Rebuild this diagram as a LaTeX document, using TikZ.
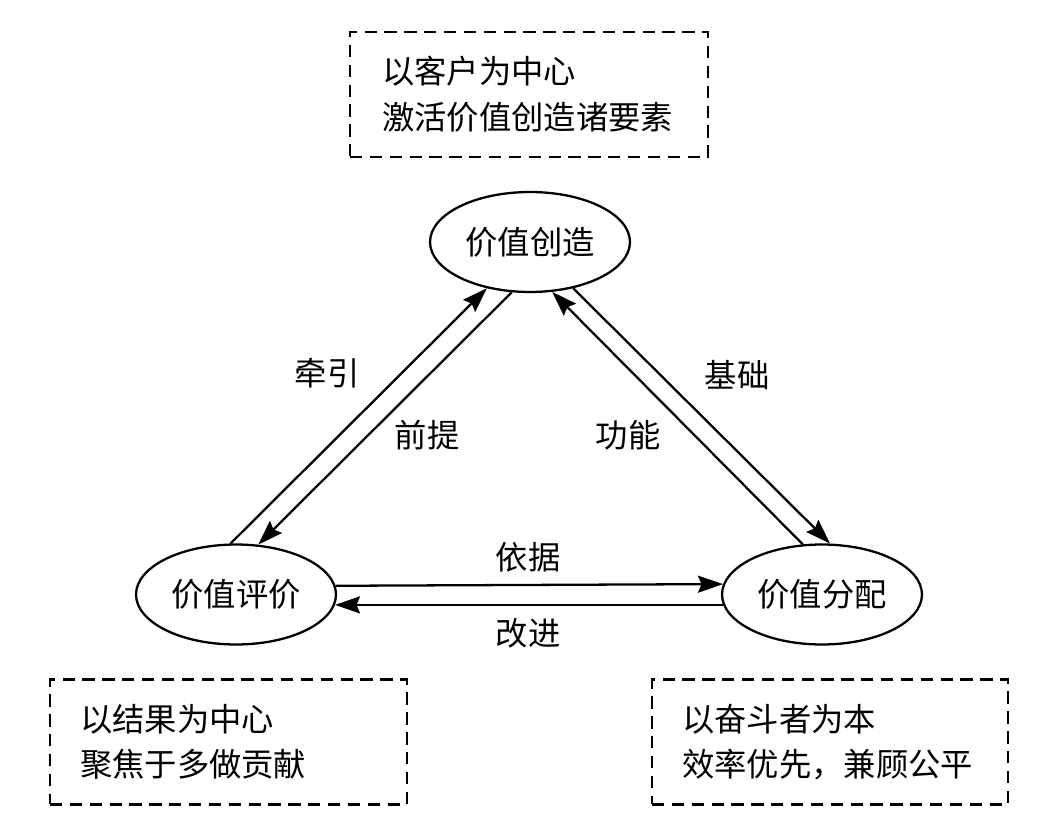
\documentclass[tikz,border=0pt]{standalone}
\usepackage{fontspec}
\setmainfont{Noto Sans CJK SC}
\usetikzlibrary{shapes.geometric,arrows.meta}

\begin{document}
\begin{tikzpicture}[x=0.02cm,y=-0.02cm,font=\fontsize{18.4}{26}\selectfont,
	stage/.style={ellipse,draw,line width=1.3pt,minimum width=4cm,minimum height=2cm,inner sep=0pt},
	notebox/.style={draw,dash pattern=on 7pt off 4.3pt,line width=1.4pt,align=left,inner ysep=0pt,minimum height=2.5cm},
	link/.style={line width=1.3pt,-{Stealth[length=0.5cm,width=0.34cm,inset=0.07cm]}},
	tag/.style={inner sep=0pt}]
			\useasboundingbox (0,0) rectangle (1061,821);
			% the three stages
			\node[stage] (create) at (530,242) {价值创造};
			\node[stage] (eval) at (236,594.5) {价值评价};
			\node[stage] (alloc) at (822,594.5) {价值分配};
			% dashed notes
			\node[notebox,text width=5.88cm,inner xsep=0.64cm] (createnote) at (529,94.5) {以客户为中心\\激活价值创造诸要素};
			\node[notebox,text width=5.94cm,inner xsep=0.6cm] (evalnote) at (228.5,742) {以结果为中心\\聚焦于多做贡献};
			\node[notebox,text width=5.92cm,inner xsep=0.6cm] (allocnote) at (830,742) {以奋斗者为本\\效率优先，兼顾公平};
			% links
			\draw[link] (eval.96.6) -- (create.227);
			\draw[link] (create.250.5) -- (eval.66.9);
			\draw[link] (alloc.111) -- (create.294.6);
			\draw[link] (create.313.7) -- (alloc.81);
			\draw[link] (eval.5.5) -- (alloc.174.5);
			\draw[link] (alloc.186) -- (eval.-6);
			\node[tag] (pull) at (327,373) {牵引};
			\node[tag] (premise) at (427,435) {前提};
			\node[tag] (basis) at (737,375) {基础};
			\node[tag] (function) at (628,435) {功能};
			\node[tag] (ground) at (528,557) {依据};
			\node[tag] (improve) at (528,633) {改进};
\end{tikzpicture}
\end{document}
